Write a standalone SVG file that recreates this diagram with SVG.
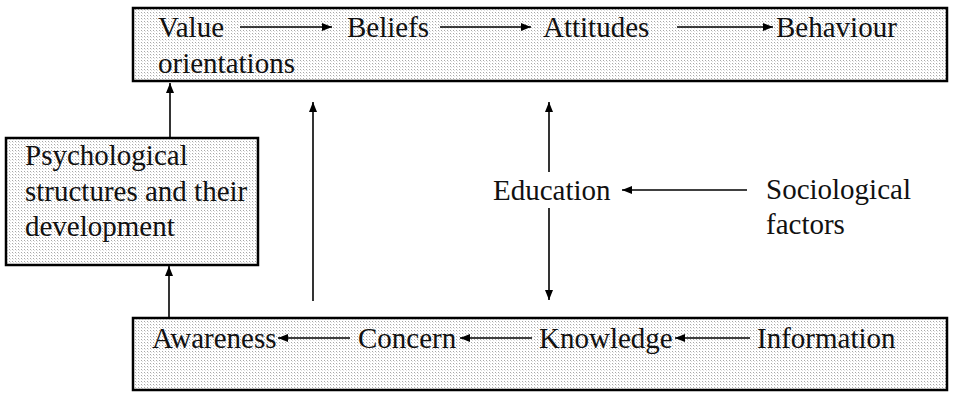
<svg xmlns="http://www.w3.org/2000/svg" width="953" height="393" viewBox="0 0 953 393" font-family="Liberation Serif" font-size="29">
<defs>
<pattern id="dots" width="3" height="3" patternUnits="userSpaceOnUse">
<rect width="3" height="3" fill="#ffffff"/>
<rect width="1" height="1" fill="#a8a8a8"/>
<rect x="1" y="1" width="1" height="1" fill="#dddddd"/>
</pattern>
<marker id="ah" viewBox="0 0 10 8" refX="10" refY="4" markerWidth="10" markerHeight="8" markerUnits="userSpaceOnUse" orient="auto">
<path d="M0,0 L10,4 L0,8 Z" fill="#000"/>
</marker>
</defs>
<style>
.box{fill:url(#dots);stroke:#000;stroke-width:2.5}
.c{stroke:#000;stroke-width:1.6;fill:none;marker-end:url(#ah)}
</style>
<g id="top-box" fill="#111">
<rect class="box" x="133" y="8" width="814" height="73"/>
<text font-family="Liberation Serif" x="158" y="37">Value</text>
<text font-family="Liberation Serif" x="158" y="73">orientations</text>
<text font-family="Liberation Serif" x="347" y="37">Beliefs</text>
<text font-family="Liberation Serif" x="543" y="37">Attitudes</text>
<text font-family="Liberation Serif" x="776" y="37">Behaviour</text>
</g>
<g id="psych-box" fill="#111">
<rect class="box" x="6" y="138" width="252" height="127"/>
<text font-family="Liberation Serif" x="25" y="165">Psychological</text>
<text font-family="Liberation Serif" x="25" y="201">structures and their</text>
<text font-family="Liberation Serif" x="25" y="236">development</text>
</g>
<g id="bottom-box" fill="#111">
<rect class="box" x="133" y="318" width="814" height="72"/>
<text font-family="Liberation Serif" x="152" y="348">Awareness</text>
<text font-family="Liberation Serif" x="358" y="348">Concern</text>
<text font-family="Liberation Serif" x="539" y="348">Knowledge</text>
<text font-family="Liberation Serif" x="757" y="348">Information</text>
</g>
<g id="education" fill="#111">
<text font-family="Liberation Serif" x="493" y="200">Education</text>
</g>
<g id="sociological" fill="#111">
<text font-family="Liberation Serif" x="766" y="199">Sociological</text>
<text font-family="Liberation Serif" x="766" y="234">factors</text>
</g>
<g id="connectors">
<line class="c" x1="240" y1="27" x2="332" y2="27"/>
<line class="c" x1="440" y1="27" x2="531" y2="27"/>
<line class="c" x1="677" y1="27" x2="773" y2="27"/>
<line class="c" x1="350" y1="338" x2="278" y2="338"/>
<line class="c" x1="532" y1="338" x2="460" y2="338"/>
<line class="c" x1="750" y1="338" x2="675" y2="338"/>
<line class="c" x1="169" y1="318" x2="169" y2="266"/>
<line class="c" x1="170" y1="138" x2="170" y2="83"/>
<line class="c" x1="313" y1="301" x2="313" y2="102"/>
<line class="c" x1="549" y1="172" x2="549" y2="102"/>
<line class="c" x1="549" y1="208" x2="549" y2="300"/>
<line class="c" x1="747" y1="190" x2="622" y2="190"/>
</g>
</svg>
